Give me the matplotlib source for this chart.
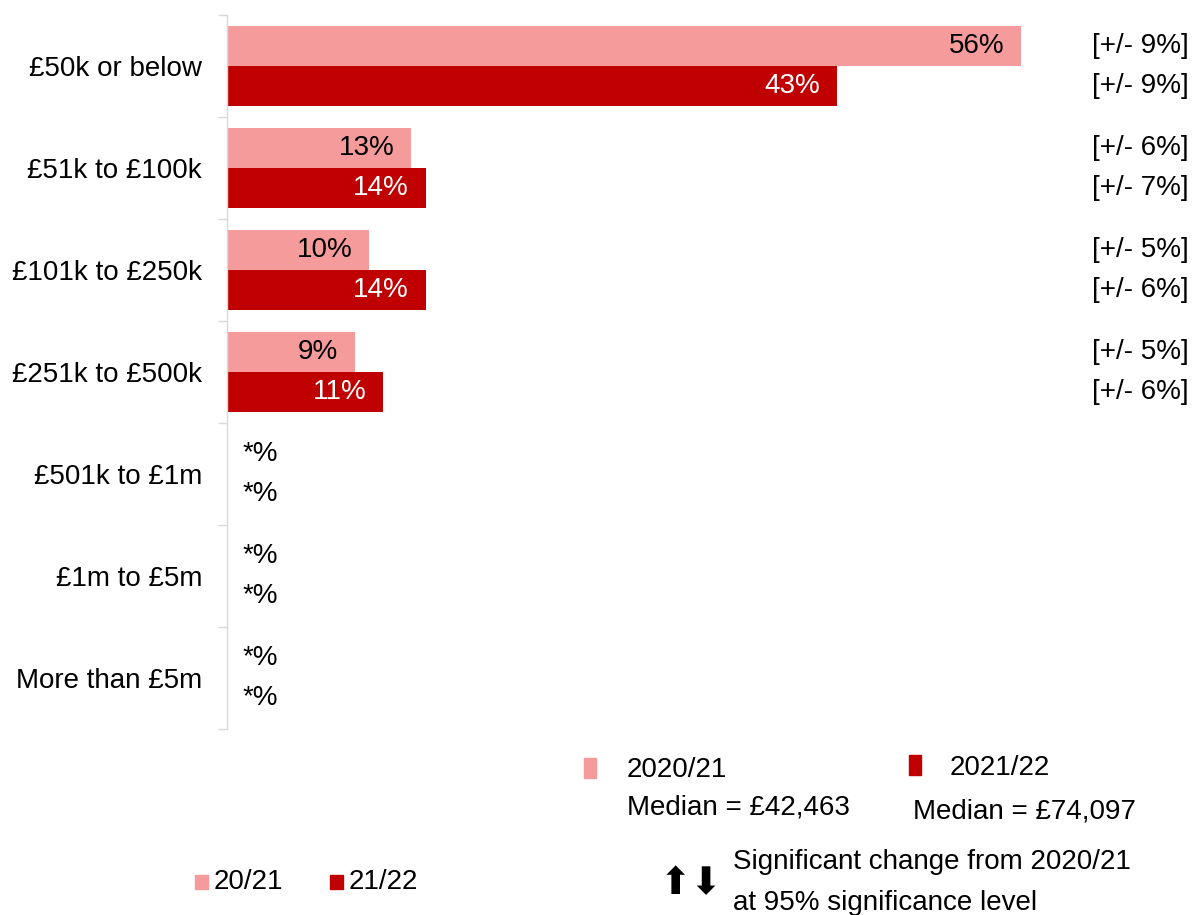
import numpy as np
import matplotlib.pyplot as plt
from matplotlib.patches import Rectangle

plt.rcParams['font.family'] = ['Liberation Sans', 'DejaVu Sans']
plt.rcParams['font.size'] = 20

# Turnover bands and shares of respondents (%)
categories = ['£50k or below', '£51k to £100k', '£101k to £250k', '£251k to £500k',
              '£501k to £1m', '£1m to £5m', 'More than £5m']
share_2021 = [56, 13, 10, 9, 0, 0, 0]
share_2122 = [43, 14, 14, 11, 0, 0, 0]
labels_2021 = ['56%', '13%', '10%', '9%', '*%', '*%', '*%']
labels_2122 = ['43%', '14%', '14%', '11%', '*%', '*%', '*%']
margin_2021 = ['[+/- 9%]', '[+/- 6%]', '[+/- 5%]', '[+/- 5%]', '', '', '']
margin_2122 = ['[+/- 9%]', '[+/- 7%]', '[+/- 6%]', '[+/- 6%]', '', '', '']
medians = ['Median = £42,463', 'Median = £74,097']

light = '#F59B9B'
dark = '#C00000'
grey = '#D9D9D9'

W, H = 1194, 915
fig = plt.figure(figsize=(W / 100, H / 100), dpi=100)
ax = fig.add_axes([227 / W, (H - 729) / H, (W - 227) / W, 714 / H])

n = len(categories)
centers = np.arange(n) + 0.5
bh = 0.395
ax.barh(centers - bh / 2, share_2021, height=bh, color=light, edgecolor='none')
ax.barh(centers + bh / 2, share_2122, height=bh, color=dark, edgecolor='none')

ax.set_xlim(0, (W - 227) / 14.18)
ax.set_ylim(n, 0)

# value labels inside the bars, "*" bands written just right of the axis
for i in range(n):
    for val, lab, yy, col in [(share_2021[i], labels_2021[i], centers[i] - bh / 2, 'black'),
                              (share_2122[i], labels_2122[i], centers[i] + bh / 2, 'white')]:
        if val > 0:
            ax.annotate(lab, (val, yy), xytext=(-12, 0), textcoords='offset points',
                        ha='right', va='center', color=col)
        else:
            ax.annotate(lab, (0, yy), xytext=(11, 0), textcoords='offset points',
                        ha='left', va='center', color='black')
    ax.text(61.0, centers[i] - bh / 2, margin_2021[i], ha='left', va='center')
    ax.text(61.0, centers[i] + bh / 2, margin_2122[i], ha='left', va='center')

ax.set_yticks(centers)
ax.set_yticklabels(categories)
ax.set_yticks(np.arange(n + 1), minor=True)
ax.tick_params(axis='y', which='major', length=0, pad=18)
ax.tick_params(axis='y', which='minor', length=6.5, width=1, color=grey)
ax.xaxis.set_visible(False)
for s in ['top', 'right', 'bottom']:
    ax.spines[s].set_visible(False)
ax.spines['left'].set_color(grey)
ax.spines['left'].set_linewidth(1)


def px(x, y):
    return x / W, 1 - y / H


# year legend with medians
fig.patches.append(Rectangle(px(584, 778), 12 / W, 20 / H, transform=fig.transFigure,
                             color=light, figure=fig))
fig.text(*px(627, 770), '2020/21', ha='left', va='center')
fig.text(*px(627, 808), medians[0], ha='left', va='center')
fig.patches.append(Rectangle(px(909, 775), 12 / W, 20 / H, transform=fig.transFigure,
                             color=dark, figure=fig))
fig.text(*px(950, 768), '2021/22', ha='left', va='center')
fig.text(*px(913, 811), medians[1], ha='left', va='center')

# short legend
fig.patches.append(Rectangle(px(195, 889), 13 / W, 14 / H, transform=fig.transFigure,
                             color=light, figure=fig))
fig.text(*px(214, 882), '20/21', ha='left', va='center')
fig.patches.append(Rectangle(px(330, 889), 13 / W, 14 / H, transform=fig.transFigure,
                             color=dark, figure=fig))
fig.text(*px(349, 882), '21/22', ha='left', va='center')

# significance key
fig.text(*px(660, 884), '⬆⬇', ha='left', va='center', fontsize=27,
         family=['DejaVu Sans', 'Noto Sans CJK SC'])
fig.text(*px(733, 862), 'Significant change from 2020/21', ha='left', va='center')
fig.text(*px(733, 903), 'at 95% significance level', ha='left', va='center')

fig.savefig('out.png', dpi=100)
